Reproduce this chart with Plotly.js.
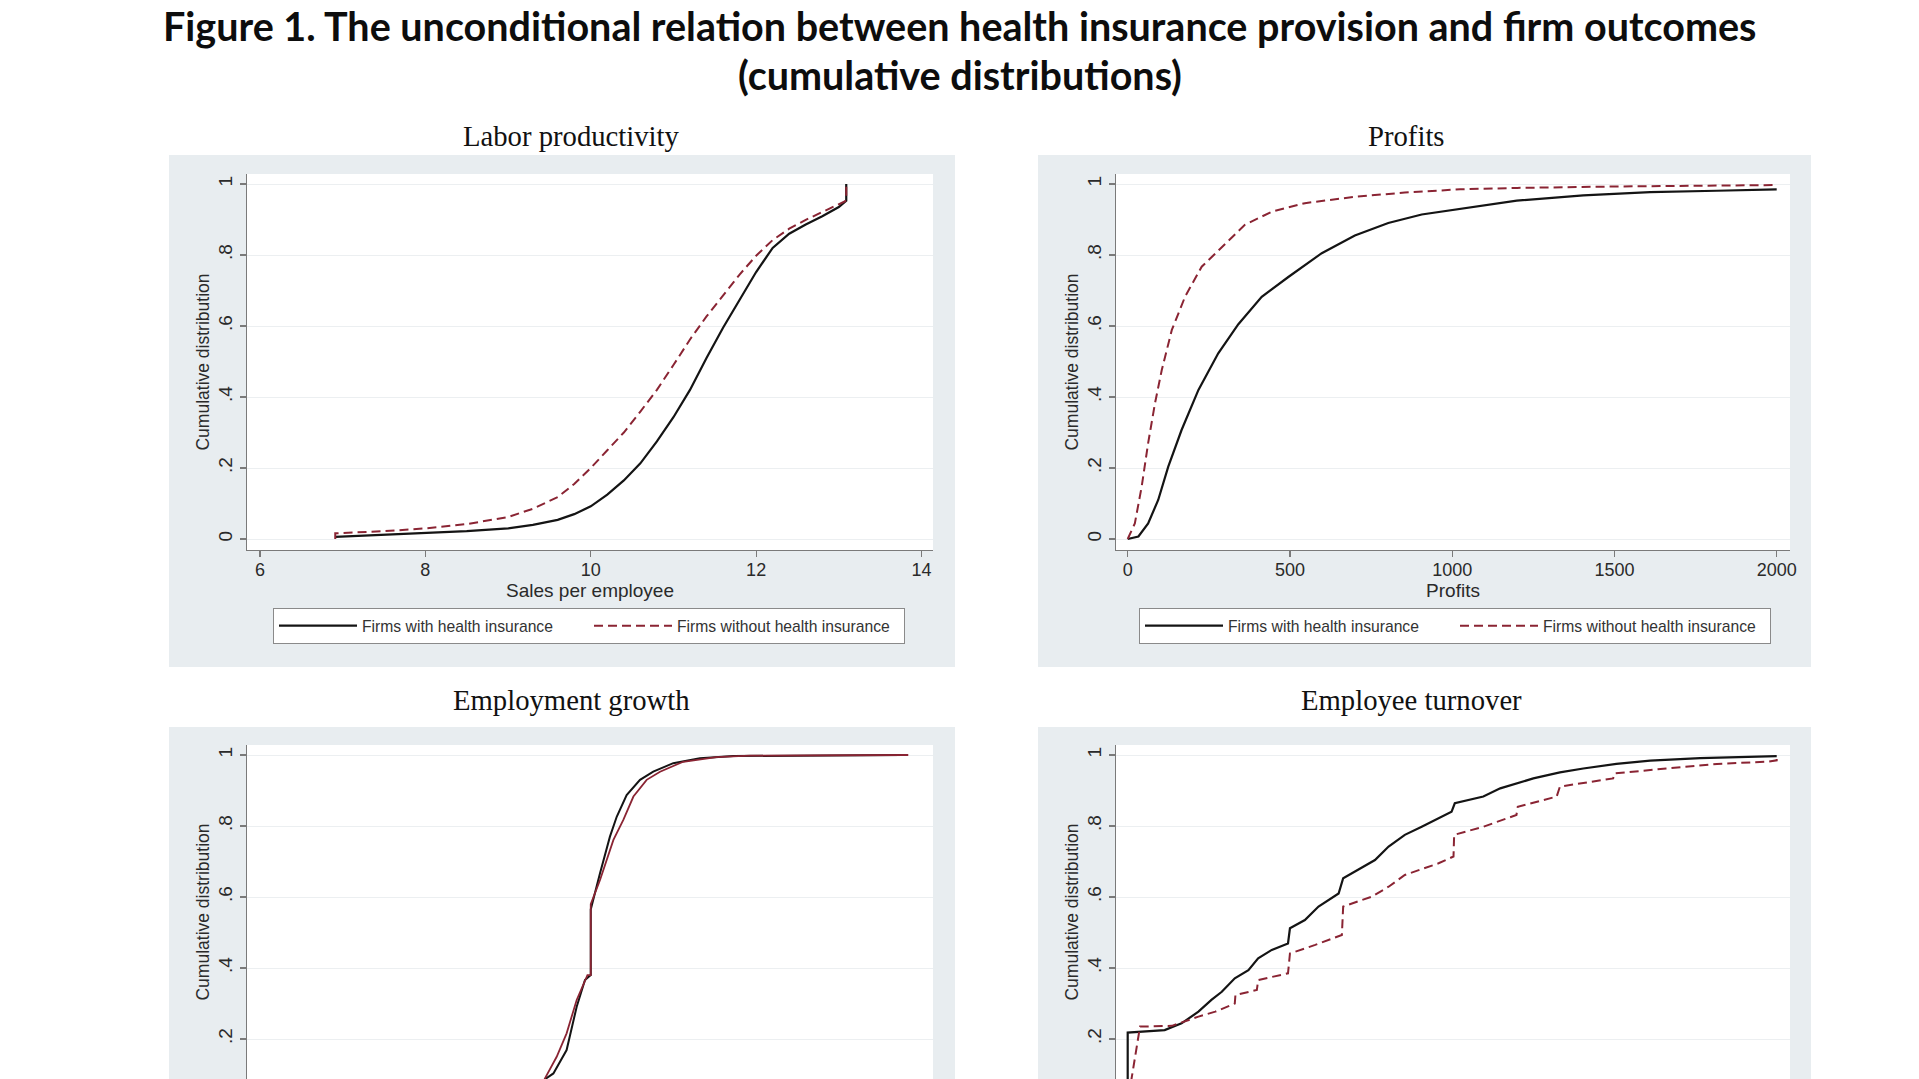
<!DOCTYPE html>
<html><head><meta charset="utf-8">
<script src="https://cdn.plot.ly/plotly-3.0.1.min.js"></script>
<style>html,body{margin:0;padding:0;overflow:hidden;background:#fff}#chart{width:1919px;height:1079px}</style>
</head><body><div id="chart"></div>
<script>
// ---------- data ----------
const titleLines = ["Figure 1. The unconditional relation between health insurance provision and firm outcomes", "(cumulative distributions)"];
const legendNames = ["Firms with health insurance", "Firms without health insurance"];
const panelTitles = ["Labor productivity", "Profits", "Employment growth", "Employee turnover"];
const axisTitles = ["Sales per employee", "Profits", "Cumulative distribution"];
const yTickVals = [0, 0.2, 0.4, 0.6, 0.8, 1];
const yTickText = ["0", ".2", ".4", ".6", ".8", "1"];
const lpTicks = [6, 8, 10, 12, 14];
const prTicks = [0, 500, 1000, 1500, 2000];

// Labor productivity (sales per employee)
const lpWithX = [6.91, 7.5, 8.0, 8.5, 9.0, 9.3, 9.6, 9.8, 10.0, 10.2, 10.4, 10.6, 10.8, 11.0, 11.2, 11.4, 11.6, 11.8, 12.0, 12.2, 12.4, 12.6, 12.8, 13.0, 13.09, 13.09];
const lpWithY = [0.006, 0.012, 0.016, 0.022, 0.030, 0.040, 0.054, 0.070, 0.092, 0.125, 0.165, 0.213, 0.275, 0.343, 0.42, 0.51, 0.595, 0.673, 0.752, 0.82, 0.86, 0.886, 0.909, 0.935, 0.953, 1.0];
const lpWithoutX = [6.91, 6.91, 7.5, 8.0, 8.5, 9.0, 9.3, 9.6, 9.8, 10.0, 10.2, 10.4, 10.6, 10.8, 11.0, 11.2, 11.4, 11.6, 11.8, 12.0, 12.2, 12.4, 12.6, 12.8, 13.0, 13.09, 13.09];
const lpWithoutY = [0.0, 0.016, 0.022, 0.030, 0.042, 0.062, 0.085, 0.118, 0.155, 0.20, 0.25, 0.30, 0.359, 0.42, 0.49, 0.562, 0.627, 0.687, 0.745, 0.798, 0.842, 0.874, 0.899, 0.921, 0.942, 0.953, 1.0];

// Profits
const prWithX = [0, 33, 63, 94, 125, 166, 218, 279, 341, 413, 495, 598, 700, 803, 906, 1024, 1199, 1404, 1610, 1815, 2000];
const prWithY = [0, 0.007, 0.044, 0.11, 0.204, 0.307, 0.42, 0.523, 0.605, 0.682, 0.738, 0.805, 0.855, 0.89, 0.914, 0.93, 0.953, 0.968, 0.977, 0.981, 0.985];
const prWithoutX = [0, 22, 43, 63, 84, 105, 136, 177, 228, 290, 361, 444, 546, 700, 854, 1024, 1200, 1500, 1800, 2000];
const prWithoutY = [0, 0.044, 0.147, 0.27, 0.382, 0.476, 0.589, 0.683, 0.767, 0.823, 0.885, 0.922, 0.946, 0.964, 0.976, 0.985, 0.989, 0.993, 0.995, 0.997];

// Employment growth
const egWithX = [-0.29, -0.276, -0.226, -0.146, -0.085, -0.035, 0.0, 0.0, 0.056, 0.116, 0.157, 0.217, 0.298, 0.378, 0.499, 0.66, 0.862, 1.877];
const egWithY = [0.075, 0.087, 0.103, 0.169, 0.291, 0.366, 0.38, 0.565, 0.667, 0.77, 0.826, 0.887, 0.93, 0.953, 0.977, 0.991, 0.997, 1.0];
const egWithoutX = [-0.29, -0.276, -0.206, -0.146, -0.085, -0.02, 0.0, 0.0, 0.056, 0.137, 0.197, 0.258, 0.338, 0.419, 0.559, 0.76, 0.96, 1.92];
const egWithoutY = [0.075, 0.09, 0.150, 0.216, 0.310, 0.38, 0.38, 0.58, 0.648, 0.761, 0.817, 0.883, 0.93, 0.953, 0.981, 0.994, 0.998, 1.0];

// Employee turnover
const etWithX = [0, 0, 0.057, 0.083, 0.109, 0.129, 0.145, 0.165, 0.186, 0.201, 0.222, 0.247, 0.25, 0.273, 0.294, 0.325, 0.332, 0.355, 0.381, 0.402, 0.427, 0.453, 0.499, 0.504, 0.548, 0.574, 0.599, 0.625, 0.666, 0.702, 0.753, 0.805, 0.882, 1.0];
const etWithY = [0.0, 0.218, 0.225, 0.244, 0.277, 0.31, 0.333, 0.371, 0.394, 0.427, 0.451, 0.469, 0.512, 0.535, 0.573, 0.61, 0.653, 0.676, 0.704, 0.742, 0.775, 0.798, 0.84, 0.864, 0.883, 0.906, 0.92, 0.934, 0.951, 0.962, 0.975, 0.984, 0.991, 0.997];
const etWithoutX = [0.0, 0.006, 0.019, 0.068, 0.109, 0.135, 0.165, 0.166, 0.199, 0.201, 0.247, 0.25, 0.289, 0.33, 0.332, 0.376, 0.402, 0.427, 0.479, 0.502, 0.503, 0.548, 0.599, 0.601, 0.661, 0.666, 0.748, 0.75, 0.83, 0.908, 0.985, 1.0, 1.0];
const etWithoutY = [0.0, 0.089, 0.235, 0.237, 0.263, 0.277, 0.30, 0.324, 0.338, 0.366, 0.385, 0.441, 0.465, 0.493, 0.573, 0.601, 0.629, 0.662, 0.695, 0.714, 0.775, 0.798, 0.831, 0.854, 0.883, 0.911, 0.934, 0.948, 0.962, 0.975, 0.981, 0.985, 1.0];

// ---------- layout helpers ----------
const W = 1919, H = 1079;
const px = p => p / W;
const py = p => 1 - p / H;

const BLACK = '#141414';
const RED = '#8a2433';
const solid = {color: BLACK, width: 2.2};
const dashed = {color: RED, width: 2, dash: '9px,5px'};
const sans = 'Liberation Sans, Arial, sans-serif';
const serif = 'Liberation Serif, Times New Roman, serif';
const textCol = '#2a2a2a';

const traces = [
  {x: lpWithX, y: lpWithY, xaxis: 'x', yaxis: 'y', mode: 'lines', name: legendNames[0], line: solid, legend: 'legend'},
  {x: lpWithoutX, y: lpWithoutY, xaxis: 'x', yaxis: 'y', mode: 'lines', name: legendNames[1], line: dashed, legend: 'legend'},
  {x: prWithX, y: prWithY, xaxis: 'x2', yaxis: 'y2', mode: 'lines', name: legendNames[0], line: solid, legend: 'legend2'},
  {x: prWithoutX, y: prWithoutY, xaxis: 'x2', yaxis: 'y2', mode: 'lines', name: legendNames[1], line: dashed, legend: 'legend2'},
  {x: egWithX, y: egWithY, xaxis: 'x3', yaxis: 'y3', mode: 'lines', name: legendNames[0], line: {color: BLACK, width: 2}, showlegend: false},
  {x: egWithoutX, y: egWithoutY, xaxis: 'x3', yaxis: 'y3', mode: 'lines', name: legendNames[1], line: {color: RED, width: 1.8}, showlegend: false},
  {x: etWithX, y: etWithY, xaxis: 'x4', yaxis: 'y4', mode: 'lines', name: legendNames[0], line: solid, showlegend: false},
  {x: etWithoutX, y: etWithoutY, xaxis: 'x4', yaxis: 'y4', mode: 'lines', name: legendNames[1], line: dashed, showlegend: false}
];

const axisLine = {showline: true, linecolor: '#7a7a7a', linewidth: 1.3, ticks: 'outside', ticklen: 6, tickcolor: '#7a7a7a', tickwidth: 1.2, zeroline: false, fixedrange: true};

function yAxis(domain, range, anchor) {
  return Object.assign({}, axisLine, {
    domain: domain, range: range, anchor: anchor, tickmode: 'array', tickvals: yTickVals, ticktext: yTickText,
    tickangle: -90, tickfont: {family: sans, size: 19, color: textCol},
    showgrid: true, gridcolor: '#eceff1', gridwidth: 1,
    title: {text: axisTitles[2], font: {family: sans, size: 17.5, color: textCol}, standoff: 1}
  });
}
function xAxis(domain, range, ticks, title, anchor) {
  return Object.assign({}, axisLine, {
    domain: domain, range: range, anchor: anchor, tickmode: 'array', tickvals: ticks, ticklabelstandoff: -3,
    tickfont: {family: sans, size: 18, color: textCol}, showgrid: false,
    title: {text: title, font: {family: sans, size: 19, color: textCol}, standoff: 0}
  });
}
function hiddenX(domain, range) {
  return {domain: domain, range: range, visible: false, fixedrange: true};
}

const leftDom = [px(247), px(933)];
const rightDom = [px(1116), px(1790)];
const topDom = [py(550), py(174)];
const botDom = [0, py(745)];

const lpRange = [6 - 13 / 82.69, 14 + 11.5 / 82.69];
const prRange = [-11.7 / 0.3245, 2000 + 13.3 / 0.3245];
const egRange = [-2 - 13 / 165.375, 2 + 11.5 / 165.375];
const etRange = [-11.7 / 649, 1 + 13.3 / 649];
const yTopRange = [-11 / 355, 1 + 10 / 355];
const yBotRange = [(1110 - 1079) / 355, 1 + 10 / 355];

const legendBase = {
  orientation: 'h', xanchor: 'left', yanchor: 'top', bgcolor: '#ffffff', bordercolor: '#8a8a8a', borderwidth: 1,
  font: {family: sans, size: 15.7, color: '#333'}, itemwidth: 78, entrywidth: 222, entrywidthmode: 'pixels',
  traceorder: 'normal', itemclick: false, itemdoubleclick: false
};

const grayBox = (x0, x1, y0, y1) => ({type: 'rect', xref: 'paper', yref: 'paper', x0: px(x0), x1: px(x1), y0: py(y1), y1: py(y0), fillcolor: '#e8edf0', line: {width: 0}, layer: 'below'});
const whitePlot = (ax) => ({type: 'rect', xref: 'x' + ax + ' domain', yref: 'y' + ax + ' domain', x0: 0, x1: 1, y0: 0, y1: 1, fillcolor: '#ffffff', line: {width: 0}, layer: 'below'});

const subTitle = (text, x, y) => ({text: text, xref: 'paper', yref: 'paper', x: px(x), y: py(y), xanchor: 'center', yanchor: 'middle', showarrow: false, font: {family: serif, size: 28.7, color: '#111'}});
const mainTitle = (text, y) => ({text: '<b>' + text + '</b>', xref: 'paper', yref: 'paper', x: 0.5, y: py(y), xanchor: 'center', yanchor: 'middle', showarrow: false, font: {family: 'Lato, Open Sans, sans-serif', size: 39.5, color: '#0d0d0d'}});

const layout = {
  width: W, height: H, margin: {l: 0, r: 0, t: 0, b: 0}, paper_bgcolor: '#ffffff', plot_bgcolor: '#ffffff',
  showlegend: true,
  xaxis: xAxis(leftDom, lpRange, lpTicks, axisTitles[0], 'y'),
  yaxis: yAxis(topDom, yTopRange, 'x'),
  xaxis2: xAxis(rightDom, prRange, prTicks, axisTitles[1], 'y2'),
  yaxis2: yAxis(topDom, yTopRange, 'x2'),
  xaxis3: hiddenX(leftDom, egRange),
  yaxis3: yAxis(botDom, yBotRange, 'x3'),
  xaxis4: hiddenX(rightDom, etRange),
  yaxis4: yAxis(botDom, yBotRange, 'x4'),
  legend: Object.assign({}, legendBase, {x: px(273), y: py(608)}),
  legend2: Object.assign({}, legendBase, {x: px(1139), y: py(608)}),
  shapes: [grayBox(169, 955, 155, 667), grayBox(1038, 1811, 155, 667), grayBox(169, 955, 727, 1079), grayBox(1038, 1811, 727, 1079),
           whitePlot(''), whitePlot('2'), whitePlot('3'), whitePlot('4')],
  annotations: [mainTitle(titleLines[0], 25), mainTitle(titleLines[1], 75),
                subTitle(panelTitles[0], 571, 136), subTitle(panelTitles[1], 1406, 136), subTitle(panelTitles[2], 571, 700), subTitle(panelTitles[3], 1411, 700)]
};

Plotly.newPlot('chart', traces, layout, {displayModeBar: false, staticPlot: true});
</script></body></html>
